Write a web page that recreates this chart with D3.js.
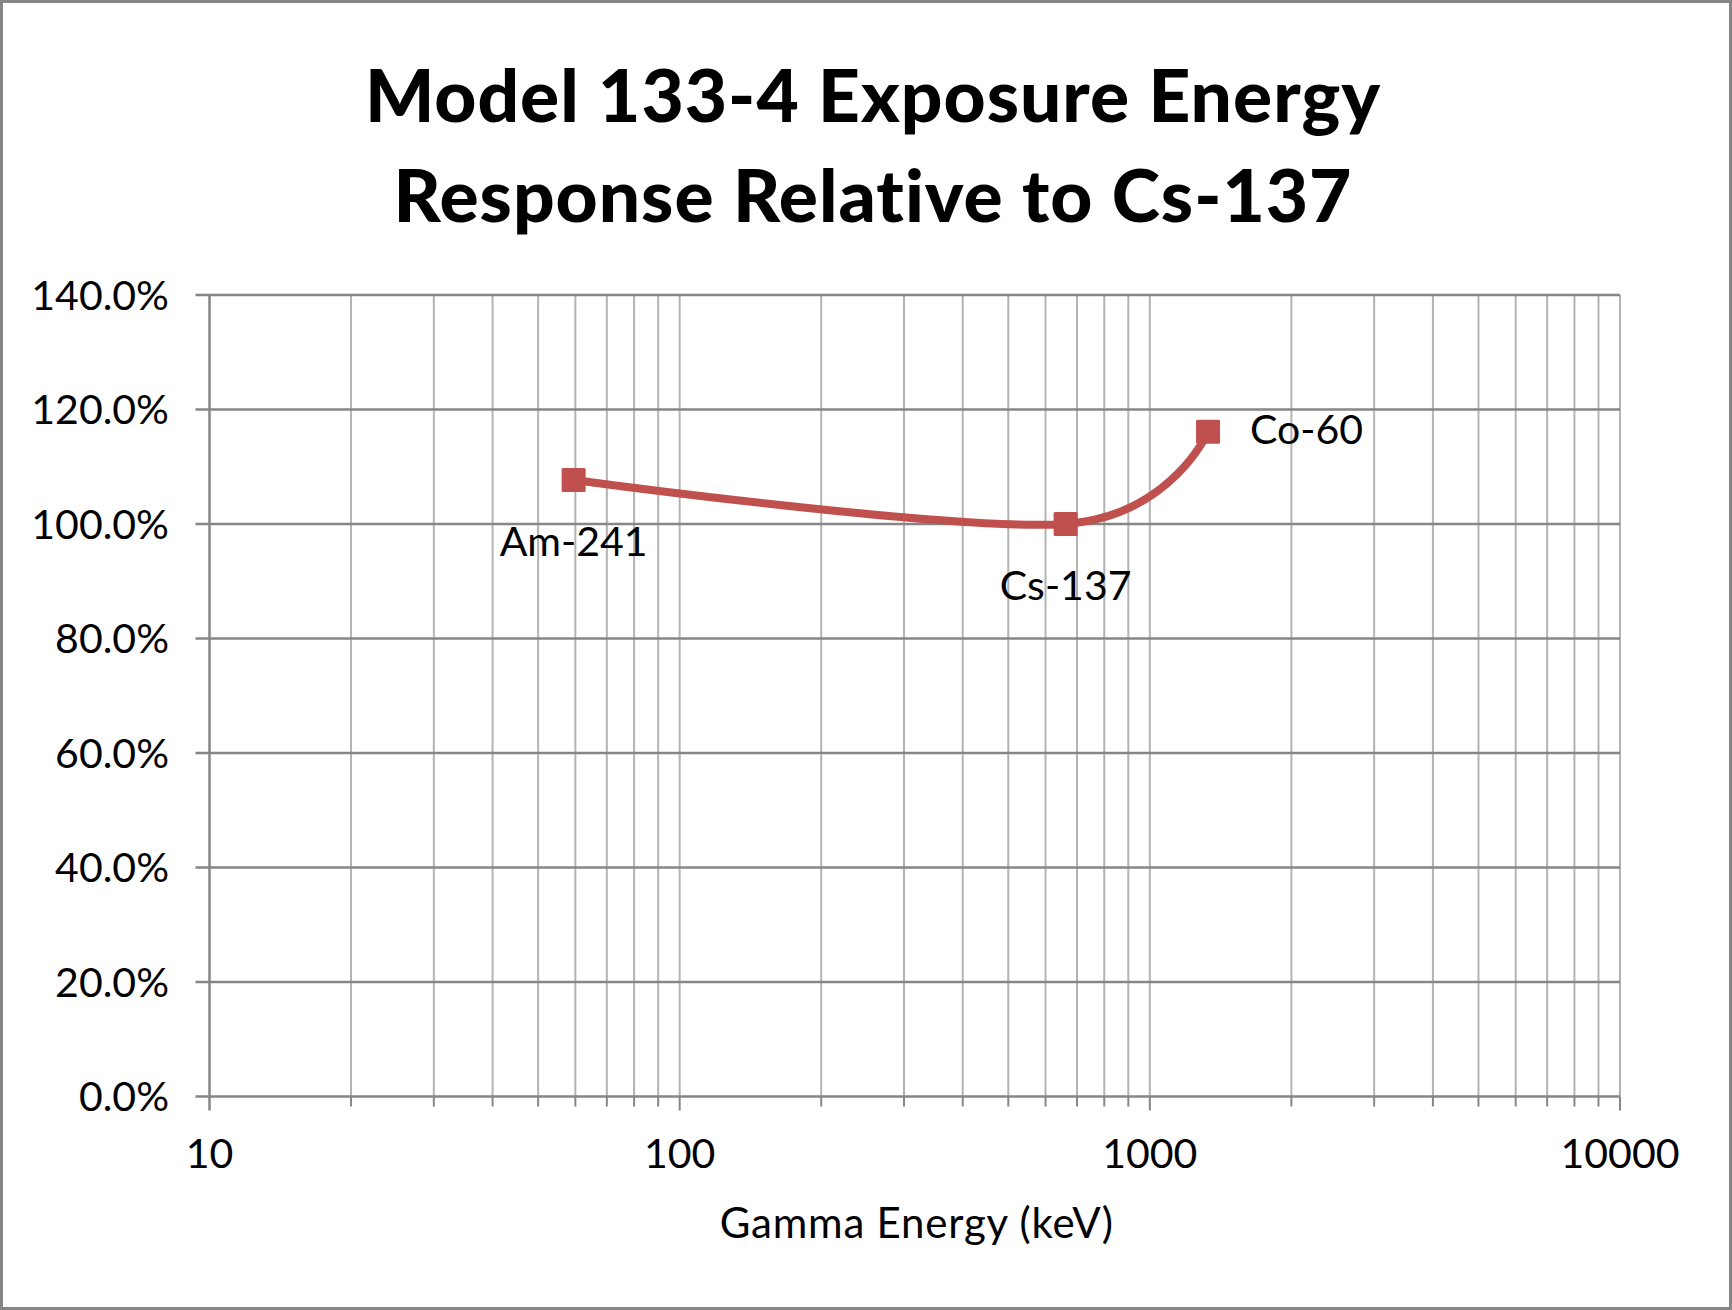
<!DOCTYPE html>
<html>
<head>
<meta charset="utf-8">
<script src="https://cdn.jsdelivr.net/npm/d3@7"></script>
<style>
  html, body { margin: 0; padding: 0; background: #fff; }
  svg { display: block; }
  text { font-family: Lato, "Open Sans", sans-serif; fill: #000; }
</style>
</head>
<body>
<svg id="chart" width="1732" height="1310"></svg>
<script>
// ---- data ----
const isotopes = ["Am-241", "Cs-137", "Co-60"];
const energies = [59.5, 662, 1330];
const responses = [107.7, 100.0, 116.1];
const labelPositions = ["below", "below", "right"];
const yTicks = [0, 20, 40, 60, 80, 100, 120, 140];
const xMajorTicks = [10, 100, 1000, 10000];
const titleLines = ["Model 133-4 Exposure Energy", "Response Relative to Cs-137"];
const xAxisTitle = "Gamma Energy (keV)";

// ---- layout ----
const W = 1732, H = 1310;
const plot = { left: 209.5, right: 1620, top: 295, bottom: 1096.5 };
const svg = d3.select("#chart");

svg.append("rect").attr("x", 1.5).attr("y", 1.5).attr("width", W - 3).attr("height", H - 3)
  .attr("fill", "#fff").attr("stroke", "#868686").attr("stroke-width", 3);

const x = d3.scaleLog().domain([10, 10000]).range([plot.left, plot.right]);
const y = d3.scaleLinear().domain([0, 140]).range([plot.bottom, plot.top]);

// minor + major vertical gridlines
const xAllTicks = [];
for (let dec = 10; dec < 10000; dec *= 10) {
  for (let m = 1; m <= 9; m++) xAllTicks.push(dec * m);
}
xAllTicks.push(10000);

svg.append("g").selectAll("line").data(xAllTicks.filter(v => v !== 10)).join("line")
  .attr("x1", d => x(d)).attr("x2", d => x(d))
  .attr("y1", plot.top).attr("y2", plot.bottom)
  .attr("stroke", "#b3b3b3").attr("stroke-width", 2);

// horizontal gridlines + y ticks
svg.append("g").selectAll("line").data(yTicks).join("line")
  .attr("x1", plot.left - 14).attr("x2", plot.right)
  .attr("y1", d => y(d)).attr("y2", d => y(d))
  .attr("stroke", "#868686").attr("stroke-width", 2.5);

// left axis line
svg.append("line").attr("x1", plot.left).attr("x2", plot.left)
  .attr("y1", plot.top).attr("y2", plot.bottom + 14)
  .attr("stroke", "#868686").attr("stroke-width", 2.5);

// x ticks below axis
svg.append("g").selectAll("line").data(xAllTicks.filter(v => v !== 10)).join("line")
  .attr("x1", d => x(d)).attr("x2", d => x(d))
  .attr("y1", plot.bottom)
  .attr("y2", d => plot.bottom + (xMajorTicks.includes(d) ? 14 : 10))
  .attr("stroke", "#868686").attr("stroke-width", 2);

// y tick labels
svg.append("g").selectAll("text").data(yTicks).join("text")
  .attr("x", 169).attr("y", d => y(d) + 14.5)
  .attr("text-anchor", "end").attr("font-size", 41)
  .text(d => d.toFixed(1) + "%");

// x tick labels
svg.append("g").selectAll("text").data(xMajorTicks).join("text")
  .attr("x", d => x(d)).attr("y", 1168)
  .attr("text-anchor", "middle").attr("font-size", 41)
  .text(d => String(d));

// axis title
svg.append("text").attr("x", (plot.left + plot.right) / 2 + 2).attr("y", 1238)
  .attr("text-anchor", "middle").attr("font-size", 42).attr("letter-spacing", 0.8).text(xAxisTitle);

// chart title
svg.append("g").selectAll("text").data(titleLines).join("text")
  .attr("x", 873).attr("y", (d, i) => i === 0 ? 121.5 : 221.5)
  .attr("text-anchor", "middle").attr("font-size", 73).attr("font-weight", 900)
  .attr("letter-spacing", 1)
  .text(d => d);

// series (smoothed line)
const pts = energies.map((e, i) => ({ e, r: responses[i], name: isotopes[i], pos: labelPositions[i] }));
const line = d3.line().x(d => x(d.e)).y(d => y(d.r)).curve(d3.curveCardinal.tension(0));
svg.append("path").datum(pts).attr("d", line)
  .attr("fill", "none").attr("stroke", "#c0504d").attr("stroke-width", 8)
  .attr("stroke-linejoin", "round");

const ms = 24;
svg.append("g").selectAll("rect").data(pts).join("rect")
  .attr("x", d => x(d.e) - ms / 2).attr("y", d => y(d.r) - ms / 2)
  .attr("width", ms).attr("height", ms).attr("rx", 1.5)
  .attr("fill", "#c0504d");

// data labels
svg.append("g").selectAll("text").data(pts).join("text")
  .attr("x", d => d.pos === "right" ? x(d.e) + 42 : x(d.e))
  .attr("y", d => d.pos === "right" ? y(d.r) + 12 : y(d.r) + 76)
  .attr("text-anchor", d => d.pos === "right" ? "start" : "middle")
  .attr("font-size", 41)
  .text(d => d.name);
</script>
</body>
</html>
